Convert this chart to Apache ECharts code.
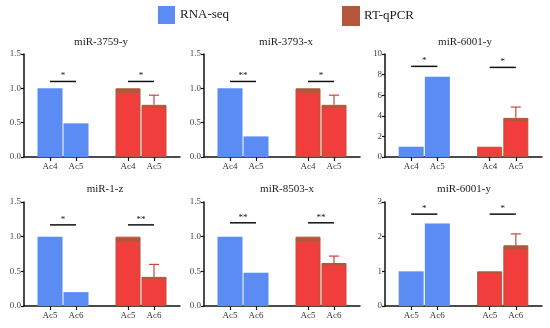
<!DOCTYPE html>
<html><head><meta charset="utf-8">
<script src="https://cdn.jsdelivr.net/npm/echarts@6/dist/echarts.min.js"></script>
<style>html,body{margin:0;padding:0;background:#fff}#c{width:550px;height:328px}</style>
</head><body><div id="c"></div>
<script>
// ---- data ----
const titles = ['miR-3759-y','miR-3793-x','miR-6001-y','miR-1-z','miR-8503-x','miR-6001-y'];
const groupLabels = [['Ac4','Ac5'],['Ac4','Ac5'],['Ac4','Ac5'],['Ac5','Ac6'],['Ac5','Ac6'],['Ac5','Ac6']];
const rnaSeq = [[1,0.49],[1,0.3],[1,7.8],[1,0.2],[1,0.48],[1,2.38]];
const rtqpcr = [[1,0.76],[1,0.76],[1,3.8],[1,0.42],[1,0.62],[1,1.75]];
const rtqpcrErr = [[0,0.14],[0,0.14],[0,1.05],[0,0.18],[0,0.1],[0,0.33]];
const sigHeight = [[1.1,1.1],[1.1,1.1],[8.8,8.7],[1.17,1.17],[1.2,1.2],[2.65,2.65]];
const sigMarks = [['*','*'],['**','*'],['*','*'],['*','**'],['**','**'],['*','*']];
const yMax = [1.5,1.5,10,1.5,1.5,3];
const yStep = [0.5,0.5,2,0.5,0.5,1];
const seriesNames = ['RNA-seq','RT-qPCR'];

// ---- layout / style ----
const FONT = '"Liberation Serif","Times New Roman",serif';
const BLUE = '#5b8cf4', RED = '#f23d3d', BROWN = '#b4563a', ERR = '#c9453b';
const grids = [
  {left:24,top:54,width:156,height:103},
  {left:204,top:54,width:156,height:103},
  {left:385,top:54,width:157,height:103},
  {left:24,top:202,width:156,height:104},
  {left:204,top:202,width:156,height:104},
  {left:385,top:202,width:157,height:104}
];
const titleCenters = [[96,32],[281,32],[460,32],[100,179],[282,179],[459,179]];

const redFill = {type:'linear',x:0,y:0,x2:0,y2:1,colorStops:[
  {offset:0,color:BROWN},{offset:0.07,color:BROWN},{offset:0.07,color:RED},{offset:1,color:RED}]};

const option = {
  animation:false,
  legend:[
    {left:158,top:6,padding:0,itemWidth:17,itemHeight:18,icon:'rect',itemGap:4,
     textStyle:{fontFamily:FONT,fontSize:13,color:'#222'},
     data:[{name:seriesNames[0],itemStyle:{color:BLUE}}]},
    {left:342,top:6,padding:0,itemWidth:16,itemHeight:18,icon:'rect',
     textStyle:{fontFamily:FONT,fontSize:13,color:'#222'},
     data:[{name:seriesNames[1],itemStyle:{color:BROWN}}]}
  ],
  title:[], grid:[], xAxis:[], yAxis:[], series:[]
};

for (let i=0;i<6;i++){
  const cats = ['', groupLabels[i][0], groupLabels[i][1], '', groupLabels[i][0], groupLabels[i][1], ''];
  option.title.push({text:titles[i], left:titleCenters[i][0], top:titleCenters[i][1], textAlign:'center',
    textStyle:{fontFamily:FONT,fontSize:11,fontWeight:'normal',color:'#222'}});
  option.grid.push(grids[i]);
  option.xAxis.push({type:'category',gridIndex:i,data:cats,boundaryGap:false,
    axisLine:{lineStyle:{color:'#111',width:1.5}},
    axisTick:{interval:(idx,val)=>val!=='',length:4,lineStyle:{color:'#111',width:1.2}},
    axisLabel:{interval:0,fontFamily:FONT,fontSize:9,color:'#333',margin:5},
    splitLine:{show:false}});
  option.yAxis.push({type:'value',gridIndex:i,min:0,max:yMax[i],interval:yStep[i],
    axisLine:{show:true,lineStyle:{color:'#111',width:1.5}},
    axisTick:{show:true,length:3,lineStyle:{color:'#111',width:1.2}},
    axisLabel:{fontFamily:FONT,fontSize:9,color:'#444',margin:3,
      formatter:v=> yStep[i]<1 ? v.toFixed(1) : String(v)},
    splitLine:{show:false}});
  option.series.push({name:seriesNames[0],type:'bar',xAxisIndex:i,yAxisIndex:i,barWidth:25,barGap:'-100%',
    itemStyle:{color:BLUE},data:[null,rnaSeq[i][0],rnaSeq[i][1],null,null,null,null]});
  option.series.push({name:seriesNames[1],type:'bar',xAxisIndex:i,yAxisIndex:i,barWidth:25,barGap:'-100%',
    itemStyle:{color:redFill,borderColor:BROWN,borderWidth:1},
    data:[null,null,null,null,rtqpcr[i][0],rtqpcr[i][1],null]});
  // error bars
  option.series.push({type:'custom',xAxisIndex:i,yAxisIndex:i,z:5,silent:true,clip:false,
    data:[[4,rtqpcr[i][0],rtqpcrErr[i][0]],[5,rtqpcr[i][1],rtqpcrErr[i][1]]],
    renderItem:(p,api)=>{
      const x=api.value(0), v=api.value(1), e=api.value(2);
      if(!e) return null;
      const a=api.coord([x,v]), b=api.coord([x,v+e]);
      return {type:'group',children:[
        {type:'line',shape:{x1:a[0],y1:a[1],x2:b[0],y2:b[1]},style:{stroke:ERR,lineWidth:1.2}},
        {type:'line',shape:{x1:b[0]-5,y1:b[1],x2:b[0]+5,y2:b[1]},style:{stroke:ERR,lineWidth:1.2}}
      ]};
    }});
  // significance lines
  option.series.push({type:'custom',xAxisIndex:i,yAxisIndex:i,z:6,silent:true,clip:false,
    data:[[1,sigHeight[i][0]],[4,sigHeight[i][1]]],
    renderItem:(p,api)=>{
      const x=api.value(0), y=api.value(1);
      const a=api.coord([x,y]), b=api.coord([x+1,y]);
      return {type:'group',children:[
        {type:'line',shape:{x1:a[0],y1:a[1],x2:b[0],y2:b[1]},style:{stroke:'#111',lineWidth:1.5}},
        {type:'text',style:{x:(a[0]+b[0])/2,y:a[1]-1,text:sigMarks[i][p.dataIndex],
          fill:'#111',font:'9px '+FONT,textAlign:'center',textVerticalAlign:'bottom'}}
      ]};
    }});
}

const chart = echarts.init(document.getElementById('c'),null,{renderer:'canvas'});
chart.setOption(option);
</script></body></html>
